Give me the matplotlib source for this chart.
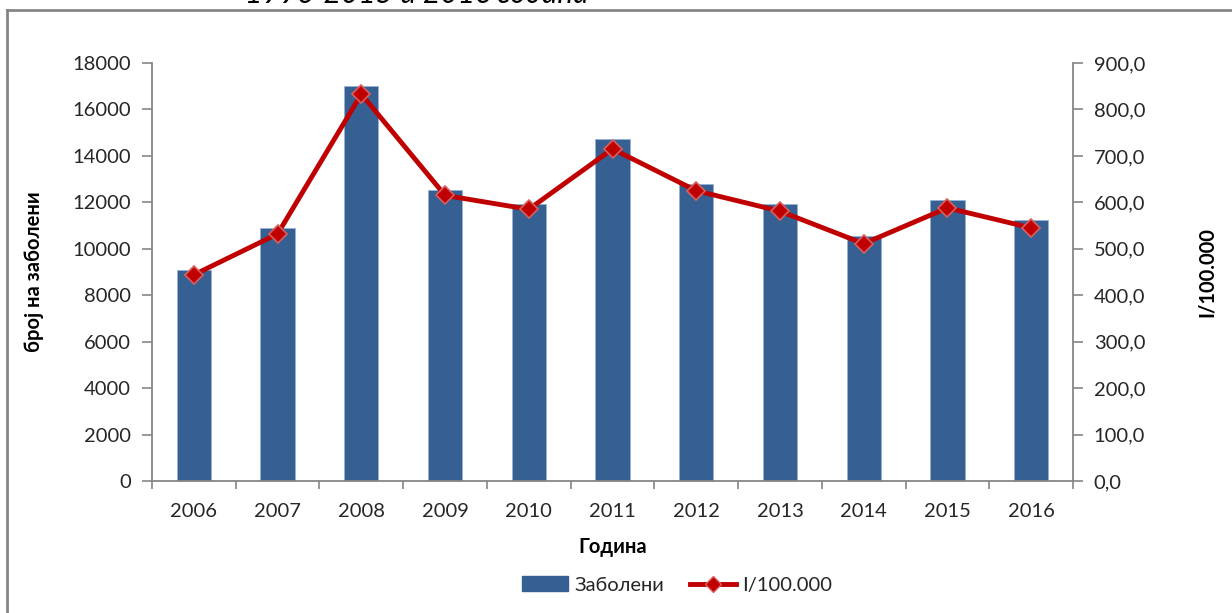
import numpy as np
import matplotlib.pyplot as plt
from matplotlib.lines import Line2D
from matplotlib.patches import Patch

years = ['2006', '2007', '2008', '2009', '2010', '2011', '2012', '2013', '2014', '2015', '2016']
zaboleni = [9070, 10900, 17000, 12550, 11920, 14720, 12800, 11920, 10550, 12110, 11240]
incidenca = [444, 532, 833, 615, 585, 715, 625, 581, 511, 588, 545]

plt.rcParams['font.family'] = ['Lato', 'DejaVu Sans']

bar_col = '#376092'
line_col = '#C00000'
grey = '#868686'
txt = '#262626'
fs = 14.5

fig = plt.figure(figsize=(12.32, 6.13), dpi=100)
ax = fig.add_axes([152/1232, 1-481/613, (1073-152)/1232, (481-63)/613])
ax2 = ax.twinx()

x = np.arange(len(years))
ax.bar(x, zaboleni, width=0.41, color=bar_col, edgecolor='#95b3d7', linewidth=0.6, zorder=2)
ax.set_xlim(-0.5, len(years) - 0.5)
ax.set_ylim(0, 18000)
ax.set_yticks(np.arange(0, 18001, 2000))
ax.set_xticks(x)
ax.set_xticklabels(years)
ax.set_xticks(np.arange(-0.5, len(years), 1), minor=True)
ax.tick_params(axis='x', which='major', length=0, pad=16, labelsize=fs, labelcolor=txt)
ax.tick_params(axis='x', which='minor', length=6, width=1.2, color=grey, direction='out')
ax.tick_params(axis='y', length=7, width=1.2, color=grey, labelsize=fs, labelcolor=txt, pad=8)

ax2.plot(x, incidenca, color=line_col, linewidth=3.5, marker='D', markersize=9,
         markerfacecolor=line_col, markeredgecolor='#d9605f', markeredgewidth=1.2, zorder=3)
ax2.set_ylim(0, 900)
ax2.set_yticks(np.arange(0, 901, 100))
ax2.set_yticklabels(['%d,0' % v for v in range(0, 901, 100)])
ax2.tick_params(axis='y', length=7, width=1.2, color=grey, labelsize=fs, labelcolor=txt, pad=8)

for a in (ax, ax2):
    a.spines['top'].set_visible(False)
    for s in ('left', 'right', 'bottom'):
        a.spines[s].set_color(grey)
        a.spines[s].set_linewidth(1.3)
ax.spines['right'].set_visible(False)
ax2.spines['left'].set_visible(False)
ax2.spines['bottom'].set_visible(False)

ax.set_ylabel('број на заболени', fontsize=fs, fontweight='bold', color='black')
ax.yaxis.set_label_coords(-0.117, 0.5)
ax2.set_ylabel('I/100.000', fontsize=fs, fontweight='bold', color='black')
ax2.yaxis.set_label_coords(1.135, 0.5)
ax.set_xlabel('Година', fontsize=fs, fontweight='bold', color='black')
ax.xaxis.set_label_coords(0.5, -0.135)

handles = [Patch(facecolor=bar_col, edgecolor=bar_col),
           Line2D([], [], color=line_col, linewidth=3.5, marker='D', markersize=8,
                  markerfacecolor=line_col, markeredgecolor='#d9605f')]
fig.legend(handles, ['Заболени', 'I/100.000'], loc='center', bbox_to_anchor=(677/1232, 1-585/613),
           ncol=2, frameon=False, fontsize=fs, handlelength=2.3, columnspacing=1.3,
           handletextpad=0.3, labelcolor=txt)

# chart border (top and left edges visible)
fig.add_artist(Line2D([7/1232, 7/1232], [0, 1-10/613], transform=fig.transFigure, color=grey, linewidth=2))
fig.add_artist(Line2D([7/1232, 1], [1-10/613, 1-10/613], transform=fig.transFigure, color=grey, linewidth=2))

# clipped caption text above the chart
fig.text(245/1232, 1 + 6/613, '1996-2015 и 2016 година', fontsize=21.5, style='italic',
         color='black', va='center', ha='left')

fig.savefig('out.png', dpi=100)
